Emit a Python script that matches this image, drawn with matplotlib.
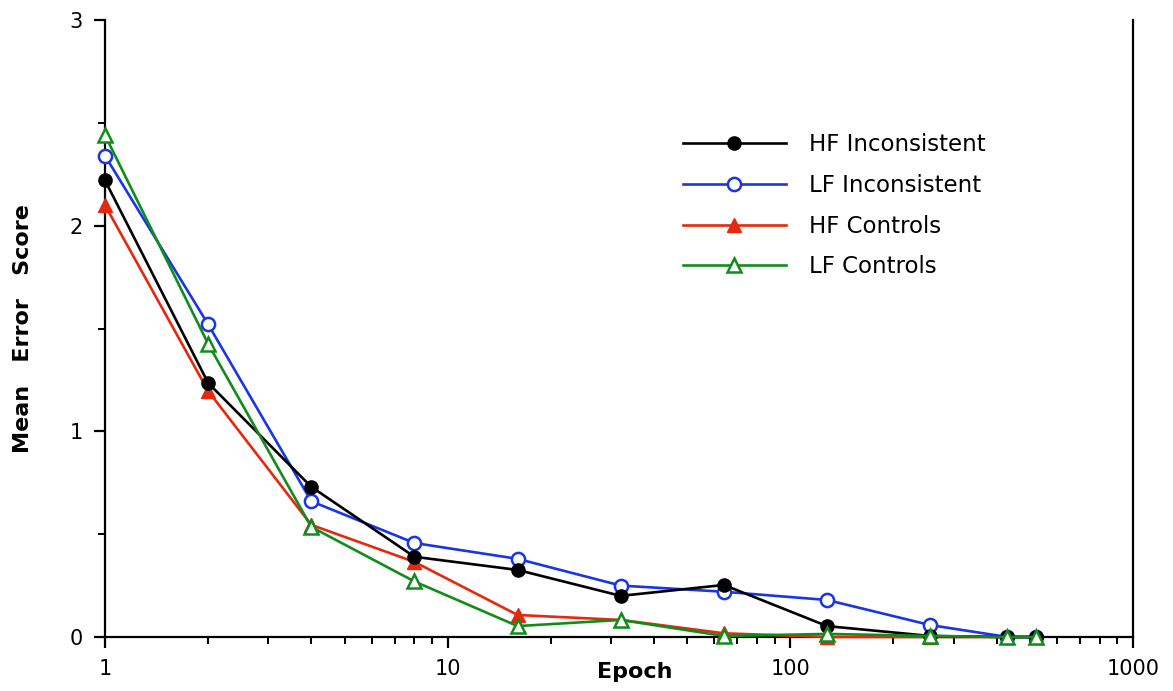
import matplotlib.pyplot as plt
from matplotlib.ticker import FixedLocator, NullFormatter

plt.rcParams['font.family'] = ['DejaVu Sans']

epochs = [1, 2, 4, 8, 16, 32, 64, 128, 256, 430, 520]

hf_inconsistent = [2.22, 1.235, 0.73, 0.39, 0.326, 0.20, 0.253, 0.053, 0.005, 0.0, 0.0]
lf_inconsistent = [2.34, 1.52, 0.66, 0.457, 0.38, 0.25, 0.22, 0.18, 0.058, 0.0, 0.0]
hf_controls = [2.10, 1.196, 0.545, 0.365, 0.107, 0.083, 0.018, 0.0, 0.0, 0.0, 0.0]
lf_controls = [2.44, 1.425, 0.535, 0.27, 0.053, 0.083, 0.005, 0.015, 0.005, 0.0, 0.0]

fig = plt.figure(figsize=(11.73, 6.91), dpi=100)
ax = fig.add_axes([105 / 1173, 1 - 637 / 691, (1133 - 105) / 1173, (637 - 20) / 691])

lw = 1.9
ms = 9.5
ax.plot(epochs, hf_inconsistent, color='black', lw=lw, marker='o', ms=ms,
        label='HF Inconsistent', clip_on=False, zorder=5)
ax.plot(epochs, lf_inconsistent, color='#1a35e6', lw=lw, marker='o', ms=ms,
        mfc='white', mew=1.8, label='LF Inconsistent', clip_on=False, zorder=4)
ax.plot(epochs, hf_controls, color='#e6280f', lw=lw, marker='^', ms=ms + 1,
        label='HF Controls', clip_on=False, zorder=3)
ax.plot(epochs, lf_controls, color='#118c1c', lw=lw, marker='^', ms=ms,
        mfc='white', mew=1.8, label='LF Controls', clip_on=False, zorder=6)

ax.set_xscale('log')
ax.set_xlim(1, 1000)
ax.set_ylim(0, 3)

ax.xaxis.set_major_locator(FixedLocator([1, 10, 100, 1000]))
ax.set_xticklabels(['1', '10', '100', '1000'])
minors = [m * d for d in (1, 10, 100) for m in range(2, 10)]
ax.xaxis.set_minor_locator(FixedLocator(minors))
ax.xaxis.set_minor_formatter(NullFormatter())
ax.yaxis.set_major_locator(FixedLocator([0, 1, 2, 3]))
ax.yaxis.set_minor_locator(FixedLocator([0.5, 1.5, 2.5]))

for side in ('left', 'bottom', 'right'):
    ax.spines[side].set_linewidth(1.6)
ax.spines['top'].set_visible(False)

ax.tick_params(which='major', direction='out', length=8, width=1.6, labelsize=15, pad=8)
ax.tick_params(which='minor', direction='out', length=5, width=1.4)
ax.tick_params(axis='y', right=False)

ax.set_xlabel('Epoch', fontsize=16, fontweight='bold')
ax.xaxis.set_label_coords(0.5156, -0.04)
ax.set_ylabel('Mean   Error   Score', fontsize=16, fontweight='bold', labelpad=26)

ax.legend(loc='upper left', bbox_to_anchor=(0.553, 0.832), frameon=False,
          fontsize=16.5, handlelength=4.5, handletextpad=1.0, labelspacing=0.78,
          borderaxespad=0)

fig.savefig('out.png', dpi=100)
